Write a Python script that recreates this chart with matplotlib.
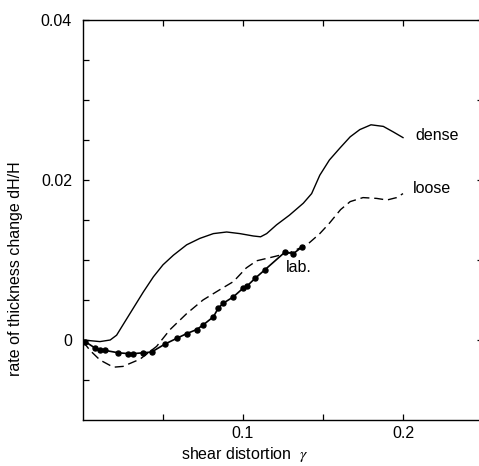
"""Rate of thickness change vs shear distortion: dense, loose and lab. curves."""

import matplotlib

matplotlib.use("Agg")
import matplotlib.pyplot as plt  # noqa: E402

plt.rcParams["font.family"] = ["Liberation Sans", "DejaVu Sans"]
plt.rcParams["mathtext.fontset"] = "stix"

# ----- values -----
dense_x = [0.0, 0.0106, 0.017, 0.021, 0.025, 0.0315, 0.0377, 0.044, 0.050, 0.0565,
           0.0648, 0.073, 0.0815, 0.0898, 0.098, 0.1065, 0.1110, 0.1148, 0.121,
           0.129, 0.1377, 0.1429, 0.148, 0.154, 0.1606, 0.167, 0.173, 0.180, 0.1877,
           0.194, 0.200]
dense_y = [0.0, -0.0002, 0.0, 0.0006, 0.0019, 0.0040, 0.0060, 0.0079, 0.0094, 0.0106,
           0.0119, 0.0127, 0.0133, 0.0135, 0.0133, 0.0130, 0.0129, 0.0133, 0.0144,
           0.0156, 0.0171, 0.0183, 0.0206, 0.0225, 0.0240, 0.0254, 0.0263, 0.0269,
           0.0267, 0.0260, 0.0253]

loose_x = [0.0, 0.0044, 0.0106, 0.019, 0.025, 0.0356, 0.046, 0.0544, 0.0648, 0.075,
           0.0856, 0.094, 0.102, 0.1085, 0.119, 0.129, 0.140, 0.148, 0.154, 0.161,
           0.167, 0.175, 0.1835, 0.190, 0.196, 0.200]
loose_y = [-0.0002, -0.0013, -0.0025, -0.0034, -0.0033, -0.0024, -0.0008, 0.0013,
           0.0033, 0.0050, 0.0063, 0.0073, 0.0090, 0.0099, 0.0104, 0.0109, 0.0119,
           0.0133, 0.0146, 0.0163, 0.0173, 0.0178, 0.0177, 0.0175, 0.0178, 0.0183]

lab_x = [0.0013, 0.0075, 0.0106, 0.0138, 0.0221, 0.0283, 0.0315, 0.0377, 0.0429,
         0.0513, 0.0585, 0.0648, 0.0710, 0.0752, 0.0815, 0.0846, 0.0877, 0.0940,
         0.1002, 0.1023, 0.1075, 0.1138, 0.1263, 0.1315, 0.1367]
lab_y = [-0.0002, -0.0010, -0.0013, -0.0013, -0.0016, -0.0017, -0.0017, -0.0016,
         -0.0015, -0.0005, 0.0002, 0.0008, 0.0013, 0.0019, 0.0029, 0.0040, 0.0046,
         0.0054, 0.0065, 0.0067, 0.0077, 0.0088, 0.0110, 0.0108, 0.0116]

x_ticks = [0.05, 0.1, 0.15, 0.2]
x_ticklabels = ["", "0.1", "", "0.2"]
y_major = [0.0, 0.01, 0.02, 0.03, 0.04]
y_majorlabels = ["0", "", "0.02", "", "0.04"]
y_minor = [-0.005, 0.005, 0.015, 0.025, 0.035]

FS = 11.5

fig = plt.figure(figsize=(4.79, 4.66), dpi=100)
ax = fig.add_axes([83 / 479, 46 / 466, 400 / 479, 400 / 466])

ax.plot(dense_x, dense_y, color="black", lw=1.0)
ax.plot(loose_x, loose_y, color="black", lw=1.0, ls=(0, (6.5, 3.5)))
ax.plot(lab_x, lab_y, color="black", lw=1.2, marker="o", ms=3.6)

ax.text(0.2075, 0.0256, "dense", fontsize=FS, va="center", ha="left")
ax.text(0.2063, 0.0189, "loose", fontsize=FS, va="center", ha="left")
ax.text(0.1265, 0.0090, "lab.", fontsize=FS, va="center", ha="left")

ax.set_xlim(0.0, 0.25)
ax.set_ylim(-0.01, 0.04)

ax.set_xticks(x_ticks)
ax.set_xticklabels(x_ticklabels, fontsize=FS)
ax.set_yticks(y_major)
ax.set_yticklabels(y_majorlabels, fontsize=FS)
ax.set_yticks(y_minor, minor=True)

ax.tick_params(which="both", direction="in", length=4, width=0.9, top=True)
ax.tick_params(axis="y", which="major", right=True, pad=8)
ax.tick_params(axis="x", pad=4)
ax.spines["right"].set_visible(False)
for s in ("left", "top", "bottom"):
    ax.spines[s].set_linewidth(1.0)

ax.set_xlabel(r"shear distortion  $\gamma$", fontsize=FS)
ax.xaxis.set_label_coords(0.405, -0.062)
ax.set_ylabel("rate of thickness change dH/H", fontsize=FS)
ax.yaxis.set_label_coords(-0.15, 0.378)

fig.savefig("out.png", dpi=100, facecolor="white")
